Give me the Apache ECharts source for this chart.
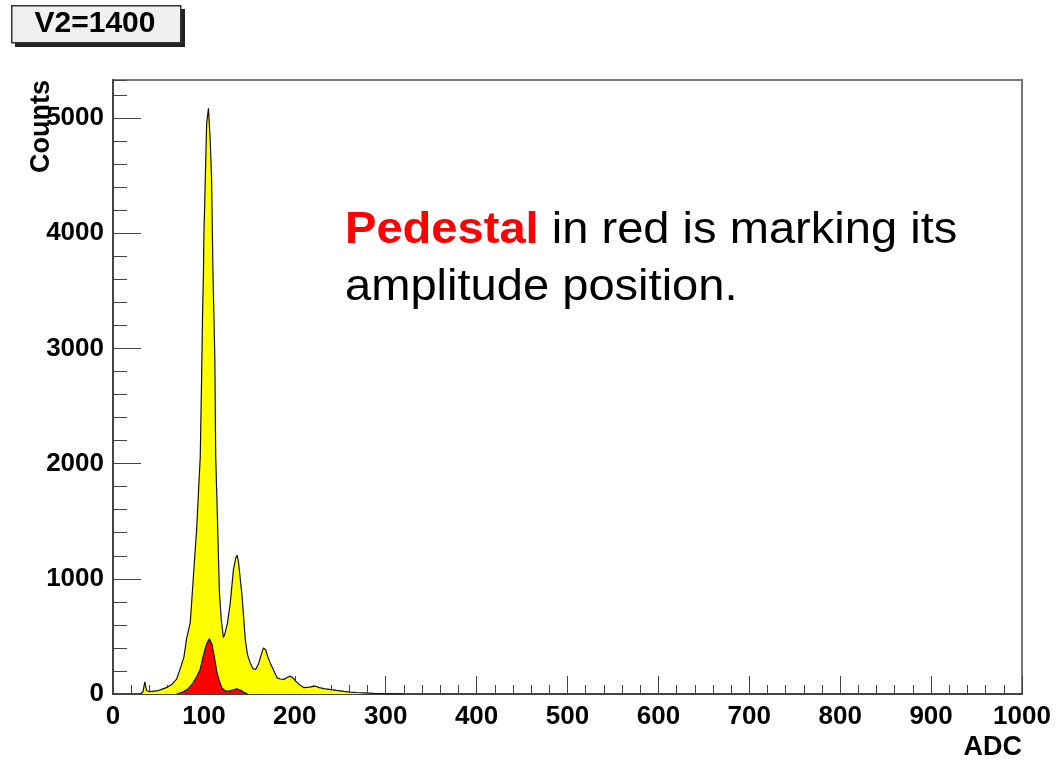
<!DOCTYPE html>
<html>
<head>
<meta charset="utf-8">
<title>V2=1400</title>
<script src="https://cdn.jsdelivr.net/npm/echarts@6/dist/echarts.min.js"></script>
<style>
  html, body { margin: 0; padding: 0; background: #fff; }
  #chart { width: 1056px; height: 764px; }
</style>
</head>
<body>
<div id="chart"></div>
<script>
// ADC spectrum, all events (yellow)
const adcAll = [30, 33, 35, 37, 40, 45, 50, 55, 60, 65, 70, 74, 78, 81, 85, 87, 90, 92, 94, 96,
  97.5, 98.5, 99.5, 100, 101, 103, 105, 106, 107, 108.5, 110, 112, 113, 115, 117, 119, 121.5,
  123, 126, 129, 132.5, 135, 136.5, 138, 140, 142, 145.5, 148, 151, 154, 157, 160, 163, 165.5,
  168, 170, 173, 177, 180.5, 184, 188, 192, 195, 198, 202, 206, 210, 216, 222, 227, 232, 240,
  246, 254, 261, 268, 276, 287, 300, 310, 320]
const countsAll = [0, 20, 105, 30, 20, 25, 30, 45, 60, 85, 130, 220, 320, 480, 620, 850, 1200, 1425, 1750, 2060,
  2760, 3280, 3660, 3990, 4290, 4950, 5085, 5085, 4800, 4460, 3640, 2930, 2060, 1490, 900, 650, 490,
  520, 620, 790, 1080, 1180, 1205, 1150, 1000, 850, 475, 340, 270, 220, 213, 260, 340, 400,
  385, 330, 270, 200, 140, 130, 127, 145, 155, 140, 103, 75, 55, 60, 69, 55, 46, 38,
  31, 22, 17, 13, 10, 5, 3, 1, 0]

// pedestal (red)
const adcPed = [70, 76, 82, 88, 92, 96, 99, 102, 104, 106, 107, 109, 110.5, 112, 114, 117, 120,
  124, 128, 132, 136, 140, 144, 148]
const countsPed = [0, 15, 40, 95, 150, 215, 320, 410, 450, 480, 488, 430, 360, 300, 200, 110, 50,
  25, 25, 35, 45, 35, 15, 0]

const xMin = 0
const xMax = 1000
const yMin = 0
const yMax = 5330

const font = '"Liberation Sans", Arial, Helvetica, sans-serif'

const zip = (xs, ys) => xs.map((x, i) => [x, ys[i]])
const plain = v => String(v)

const chart = echarts.init(document.getElementById('chart'), null, { renderer: 'canvas' })

const option = {
  animation: false,
  backgroundColor: '#ffffff',
  grid: {
    left: 113,
    right: 34,
    top: 80,
    bottom: 70,
    show: true,
    borderColor: '#777777',
    borderWidth: 2,
    backgroundColor: 'transparent'
  },
  xAxis: {
    type: 'value',
    min: xMin,
    max: xMax,
    interval: 100,
    name: 'ADC',
    nameLocation: 'end',
    nameGap: 0,
    nameTextStyle: {
      fontFamily: font,
      fontWeight: 'bold',
      fontSize: 27,
      color: '#000',
      align: 'right',
      verticalAlign: 'top',
      padding: [40, 0, 0, 0]
    },
    axisLine: { show: true, lineStyle: { color: '#444', width: 2 } },
    axisTick: { show: true, inside: true, length: 18, lineStyle: { color: '#444', width: 1 } },
    minorTick: { show: true, splitNumber: 5, length: 9, lineStyle: { color: '#444', width: 1 } },
    axisLabel: {
      formatter: plain,
      fontFamily: font,
      fontWeight: 'bold',
      fontSize: 26,
      color: '#000',
      margin: 10
    },
    splitLine: { show: false }
  },
  yAxis: [
    {
      // minor ticks every 200
      type: 'value',
      min: yMin,
      max: yMax,
      interval: 200,
      position: 'left',
      axisLine: { show: true, lineStyle: { color: '#444', width: 2 } },
      axisTick: { show: true, inside: true, length: 14, lineStyle: { color: '#444', width: 1 } },
      axisLabel: { show: false },
      splitLine: { show: false }
    },
    {
      // major ticks + labels every 1000
      type: 'value',
      min: yMin,
      max: yMax,
      interval: 1000,
      position: 'left',
      axisLine: { show: false },
      axisTick: { show: true, inside: true, length: 28, lineStyle: { color: '#444', width: 1 } },
      axisLabel: {
        formatter: plain,
        showMaxLabel: false,
        fontFamily: font,
        fontWeight: 'bold',
        fontSize: 26,
        color: '#000',
        margin: 9
      },
      splitLine: { show: false }
    }
  ],
  graphic: [
    // title box with shadow
    { type: 'rect', left: 15, top: 9, shape: { width: 170, height: 38 }, style: { fill: '#222' }, z: 10 },
    { type: 'rect', left: 11, top: 5, shape: { width: 169, height: 37 },
      style: { fill: '#f0f0f0', stroke: '#333', lineWidth: 1.5 }, z: 11 },
    { type: 'text', x: 95, y: 24, z: 12,
      style: { text: 'V2=1400', fontFamily: font, fontWeight: 'bold', fontSize: 30, fill: '#000',
        textAlign: 'center', textVerticalAlign: 'middle' } },
    // y axis title
    { type: 'text', x: 42, y: 80, rotation: Math.PI / 2, z: 12,
      style: { text: 'Counts', fontFamily: font, fontWeight: 'bold', fontSize: 27, fill: '#000',
        textAlign: 'right', textVerticalAlign: 'middle' } },
    // annotation
    { type: 'text', x: 345, y: 202, scaleX: 1.07, scaleY: 1, z: 12,
      style: {
        text: '{r|Pedestal} in red is marking its\namplitude position.',
        fontFamily: font, fontSize: 44, fill: '#000', lineHeight: 57,
        rich: {
          r: { fontFamily: font, fontSize: 44, fontWeight: 'bold', fill: '#ff0000', lineHeight: 57 }
        }
      } }
  ],
  series: [
    {
      name: 'all',
      type: 'line',
      yAxisIndex: 0,
      data: zip(adcAll, countsAll),
      symbol: 'none',
      smooth: false,
      lineStyle: { color: '#111', width: 1.2 },
      areaStyle: { color: '#ffff00', opacity: 1 },
      z: 2
    },
    {
      name: 'pedestal',
      type: 'line',
      yAxisIndex: 0,
      data: zip(adcPed, countsPed),
      symbol: 'none',
      smooth: false,
      lineStyle: { color: '#111', width: 1.2 },
      areaStyle: { color: '#ff0000', opacity: 1 },
      z: 3
    }
  ]
}

chart.setOption(option)
</script>
</body>
</html>
